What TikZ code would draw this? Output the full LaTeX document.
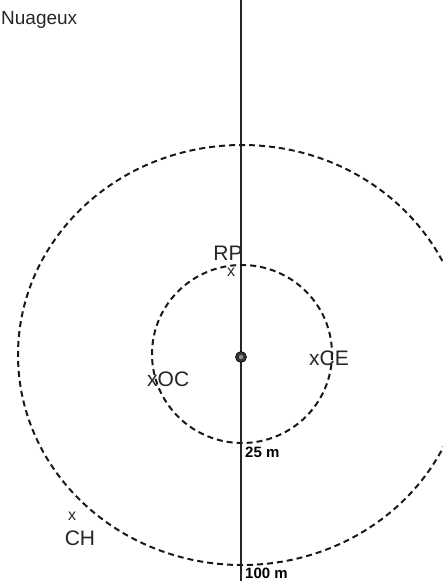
\documentclass[tikz,border=0pt]{standalone}
\usepackage{fontspec}
\setmainfont{Liberation Sans}
\usepackage{tikz}
\usetikzlibrary{positioning}
\tikzset{
  axis/.style={draw=black!85, line width=1.8pt},
  ring/.style={draw=black!90, line width=2pt, dash pattern=on 6pt off 4pt},
  dot/.style={circle, fill=black!80, draw=black, line width=0.6pt,
    minimum size=11pt, inner sep=0pt},
  hand/.style={font=\fontsize{21}{22}\selectfont, text=black!85, inner sep=0pt},
  mark x/.style={font=\fontsize{16}{16}\selectfont, text=black!85, inner sep=0pt},
  meter/.style={font=\fontsize{15}{16}\selectfont\bfseries, inner sep=1pt},
}

\begin{document}
\begin{tikzpicture}[x=1pt, y=-1pt]
\useasboundingbox (0,0) rectangle (443,581);

% North line through the point of observation
\coordinate (top) at (241,0);
\coordinate (bot) at (241,581);
\draw[axis] (top) -- (bot);

% Observation point
\node[dot] (ctr) at (241,357) {};
\fill[black!45] (ctr) circle (2.2pt);

% Rings at 25 m and 100 m
\draw[ring] (242,354) ellipse[x radius=90, y radius=89];
\draw[ring] (242,355) ellipse[x radius=224, y radius=210];

% Sky state
\node[hand, anchor=base west, font=\fontsize{19}{20}\selectfont]
   (sky) at (1,24) {Nuageux};

% Points around the observer
\node[hand, anchor=base] (rp) at (228,260) {RP};
\node[mark x, anchor=north] (rpx) at (231,268) {x};
\node[hand, anchor=base west] (oc) at (147,386) {xOC};
\node[hand, anchor=base west] (ce) at (309,365) {xCE};
\node[mark x, anchor=north] (chx) at (72,512) {x};
\node[hand, anchor=base] (ch) at (80,545) {CH};

% Distances
\node[meter, anchor=west] (m25) at (244,452) {25 m};
\node[meter, anchor=west] (m100) at (244,573) {100 m};

\end{tikzpicture}
\end{document}
